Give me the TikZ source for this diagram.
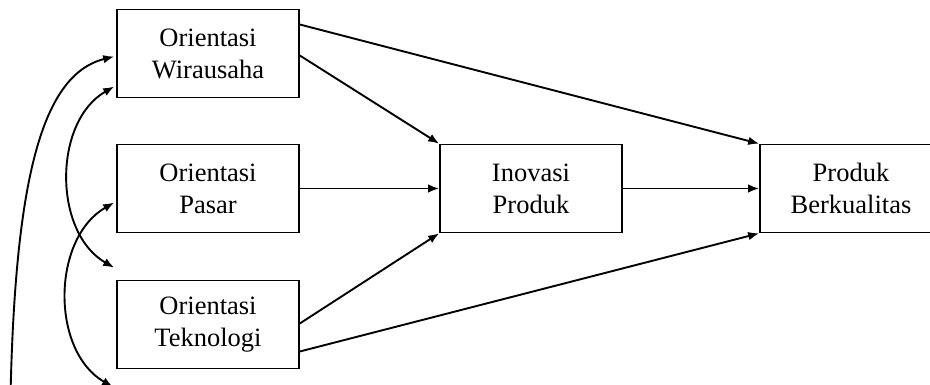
\documentclass[tikz,border=0pt]{standalone}
\usepackage{fontspec}
\setmainfont{Liberation Serif}
\usetikzlibrary{arrows.meta,calc}

\begin{document}
\begin{tikzpicture}[x=10pt, y=10pt, line width=1.9pt, >={Latex[length=11pt,width=8.5pt]},
  block/.style={draw, line width=1.6pt, minimum width=182pt, minimum height=88pt, inner sep=0pt, align=center,
    font=\fontsize{26.5}{32}\selectfont}]

\useasboundingbox (0,0) rectangle (93,38.5);

\node[block] at (20.8, 33.15) (OW) {Orientasi\\Wirausaha};
\node[block] at (20.8, 19.65) (OP) {Orientasi\\Pasar};
\node[block] at (20.8, 6.05) (OT) {Orientasi\\Teknologi};

\node[block] at (53.1, 19.65) (IP) {Inovasi\\Produk};
\node[block] at (85.1, 19.65) (PB) {Produk\\Berkualitas};

% paths to the product
\draw [->] ($(OW.east)+(0,2.9)$) -- (PB.north west);
\draw [->] ($(OW.east)+(0,-0.2)$) -- (IP.north west);
\draw [->] (OP.east) -- (IP.west);
\draw [->] (IP.east) -- (PB.west);
\draw [->] ($(OT.east)+(0,0.1)$) -- (IP.south west);
\draw [->] ($(OT.east)+(0,-2.7)$) -- (PB.south west);

% correlations on the left
\coordinate (low1) at (1.0, -4);
\coordinate (low2) at (11.3, -0.2);
\draw [->] (low1) .. controls (1.3, 20) and (4, 31) .. ($(OW.west)+(-0.2,-0.3)$);
\draw [<->] ($(OW.west)+(-0.2,-3.3)$) to[out=210, in=150] ($(OT.north west)+(-0.2,1.2)$);
\draw [<->] ($(OP.west)+(-0.2,-1.4)$) to[out=210, in=150] (low2);

\end{tikzpicture}
\end{document}
